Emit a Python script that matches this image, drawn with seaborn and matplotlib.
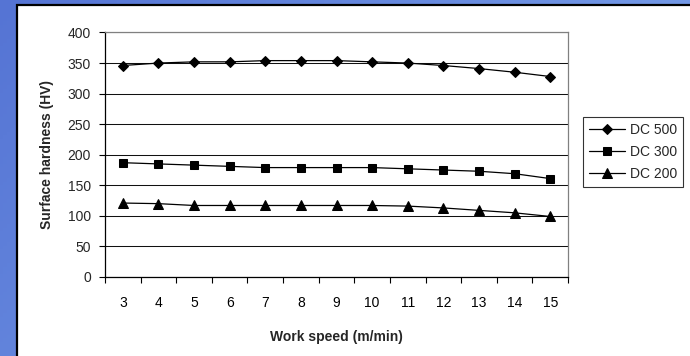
import numpy as np
import pandas as pd
import matplotlib
matplotlib.use("Agg")
import matplotlib.pyplot as plt
import seaborn as sns
from matplotlib.patches import Rectangle
from matplotlib.colors import LinearSegmentedColormap

speed = [3, 4, 5, 6, 7, 8, 9, 10, 11, 12, 13, 14, 15]
dc500 = [346, 350, 352, 352, 354, 354, 354, 352, 350, 346, 341, 335, 328]
dc300 = [187, 185, 183, 181, 179, 179, 179, 179, 177, 175, 173, 169, 161]
dc200 = [121, 120, 117, 117, 117, 117, 117, 117, 116, 113, 109, 105, 99]
series_names = ["DC 500", "DC 300", "DC 200"]
y_ticks = [0, 50, 100, 150, 200, 250, 300, 350, 400]

df = pd.DataFrame({
    "speed": speed * 3,
    "hardness": dc500 + dc300 + dc200,
    "series": [series_names[0]] * len(speed) + [series_names[1]] * len(speed) + [series_names[2]] * len(speed),
})

sns.set_theme(style="white")
plt.rcParams["font.family"] = ["Liberation Sans", "DejaVu Sans"]

W, H = 690, 356
fig = plt.figure(figsize=(W / 100, H / 100), dpi=100)

# blue diagonal gradient background
bg = fig.add_axes([0, 0, 1, 1], zorder=-10)
gx = np.linspace(0, 1, 200)
gy = np.linspace(0, 1, 100)
grad = 0.7 * gx[None, :] + 0.3 * gy[:, None]
cmap = LinearSegmentedColormap.from_list("b", ["#5574d4", "#80a8ee"])
bg.imshow(grad, aspect="auto", cmap=cmap, extent=[0, 1, 0, 1], origin="upper")
bg.set_axis_off()
# white panel with black border (right/bottom edges outside the figure)
fig.patches.append(Rectangle((17 / W, -0.1), 1, 1.1 - 5 / H, transform=fig.transFigure,
                             facecolor="white", edgecolor="black", linewidth=1.6, zorder=-5))

ax = fig.add_axes([105 / W, 1 - 277 / H, (568 - 105) / W, (277 - 32.5) / H])
ax.set_facecolor("white")

sns.lineplot(data=df, x="speed", y="hardness", hue="series", style="series",
             palette=["black"] * 3, markers={"DC 500": "D", "DC 300": "s", "DC 200": "^"},
             dashes=False, markersize=7, linewidth=0.9, markeredgecolor="black",
             ax=ax, legend=True)

msize = {"D": 5.6, "s": 6.4, "^": 7.2}
for ln in ax.lines:
    m = ln.get_marker()
    if m in msize:
        ln.set_markersize(msize[m])

ax.set_xlim(2.5, 15.5)
ax.set_ylim(0, 400)
ax.set_yticks(y_ticks)
ax.set_xticks(speed)
ax.set_xticks(np.arange(2.5, 15.6, 1.0), minor=True)
ax.tick_params(axis="x", which="major", length=0, pad=14, labelsize=10, colors="black")
ax.tick_params(axis="x", which="minor", length=4, width=0.8, color="black", direction="out", bottom=True)
ax.tick_params(axis="y", which="major", length=4, width=0.8, color="black", direction="out", left=True, pad=6, labelsize=10)
ax.grid(axis="y", color="#111111", linewidth=0.75)
ax.set_axisbelow(True)
for s in ["left", "bottom"]:
    ax.spines[s].set_color("black")
    ax.spines[s].set_linewidth(0.9)
for s in ["top", "right"]:
    ax.spines[s].set_color("#808080")
    ax.spines[s].set_linewidth(0.9)
    ax.spines[s].set_visible(True)

ax.set_xlabel("Work speed (m/min)", fontsize=10, fontweight="bold", labelpad=14)
ax.set_ylabel("Surface hardness (HV)", fontsize=10, fontweight="bold", labelpad=10)

handles, labels = ax.get_legend_handles_labels()
for h in handles:
    m = h.get_marker()
    if m in msize:
        h.set_markersize(msize[m])
leg = ax.legend(handles, labels, loc="upper left", bbox_to_anchor=(583 / W, 1 - 117 / H),
                bbox_transform=fig.transFigure, borderaxespad=0, frameon=True, fancybox=False,
                fontsize=10, handlelength=2.6, handletextpad=0.3, labelspacing=0.55,
                borderpad=0.45, edgecolor="black")
leg.get_frame().set_linewidth(0.8)

fig.savefig("out.png", dpi=100, facecolor="white")
